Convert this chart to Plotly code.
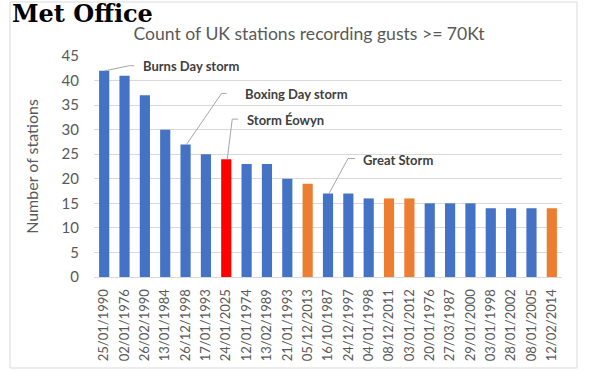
import plotly.graph_objects as go

dates = ["25/01/1990", "02/01/1976", "26/02/1990", "13/01/1984", "26/12/1998", "17/01/1993",
         "24/01/2025", "12/01/1974", "13/02/1989", "21/01/1993", "05/12/2013", "16/10/1987",
         "24/12/1997", "04/01/1998", "08/12/2011", "03/01/2012", "20/01/1976", "27/03/1987",
         "29/01/2000", "03/01/1998", "28/01/2002", "08/01/2005", "12/02/2014"]
stations = [42, 41, 37, 30, 27, 25, 24, 23, 23, 20, 19, 17, 17, 16, 16, 16, 15, 15, 15, 14, 14, 14, 14]
orange_dates = ["05/12/2013", "08/12/2011", "03/01/2012", "12/02/2014"]
red_dates = ["24/01/2025"]
named_storms = {"25/01/1990": "Burns Day storm", "26/12/1998": "Boxing Day storm",
                "24/01/2025": "Storm Éowyn", "16/10/1987": "Great Storm"}
y_ticks = [0, 5, 10, 15, 20, 25, 30, 35, 40, 45]

BLUE, ORANGE, RED = "#4472C4", "#ED7D31", "#FF0000"
colors = [RED if d in red_dates else ORANGE if d in orange_dates else BLUE for d in dates]

W, H = 590, 373
ML, MR, MT, MB = 94, 28, 56, 96
PW, PH = W - ML - MR, H - MT - MB

fig = go.Figure(go.Bar(x=dates, y=stations, marker_color=colors, marker_line_width=0))

# leader-line geometry in pixels relative to bar top: elbow, elbow end, text offset
leaders = {
    "25/01/1990": ((25, 5), (30, 5), (39, 5)),
    "26/12/1998": ((36, 51), (41, 51), (59, 50)),
    "24/01/2025": ((6, 40), (12, 40), (21, 39)),
    "16/10/1987": ((20, 35), (27, 35), (35, 34)),
}
shapes = []
annotations = []
for d, label in named_storms.items():
    v = stations[dates.index(d)]
    (ex, ey), (hx, hy), (tx, ty) = leaders[d]
    shapes.append(dict(type="path", xref="x", yref="y", xsizemode="pixel", ysizemode="pixel",
                       xanchor=d, yanchor=v, path=f"M1,0 L{ex},{ey} L{hx},{hy}",
                       line=dict(color="#A6A6A6", width=1)))
    annotations.append(dict(x=d, y=v, xref="x", yref="y", text=f"<b>{label}</b>", showarrow=False,
                            xanchor="left", yanchor="middle", xshift=tx - 2, yshift=ty,
                            font=dict(family="Lato", size=13, color="#404040")))

# chart border
shapes.append(dict(type="rect", xref="paper", yref="paper",
                   x0=(10 - ML) / PW, x1=(577 - ML) / PW,
                   y0=(MT + PH - 368) / PH, y1=(MT + PH - 2) / PH,
                   line=dict(color="#D9D9D9", width=1), layer="below"))

annotations.append(dict(xref="paper", yref="paper", x=(10 - ML) / PW, y=(MT + PH + 3) / PH,
                        xanchor="left", yanchor="top", showarrow=False, text="<b>Met Office</b>",
                        font=dict(family="DejaVu Serif", size=24, color="#000000")))

fig.update_layout(
    width=W, height=H,
    margin=dict(l=ML, r=MR, t=MT, b=MB),
    paper_bgcolor="white", plot_bgcolor="white",
    bargap=0.5,
    showlegend=False,
    title=dict(text="Count of UK stations recording gusts >= 70Kt", x=309 / W, xanchor="center",
               y=1 - 34 / H, yanchor="middle",
               font=dict(family="Lato", size=17.6, color="#595959")),
    shapes=shapes,
    annotations=annotations,
    font=dict(family="Lato", color="#595959"),
)
fig.update_xaxes(type="category", tickangle=-90, tickfont=dict(size=13, color="#595959"),
                 showline=True, linecolor="#D9D9D9", linewidth=1, ticks="", showgrid=False,
                 ticklabelstandoff=6, automargin=False)
fig.update_yaxes(range=[0, 45], tickvals=y_ticks, tickfont=dict(size=15, color="#595959"),
                 showgrid=True, gridcolor="#D9D9D9", gridwidth=1, zeroline=False, showline=False,
                 ticklabelstandoff=14, automargin=False,
                 title=dict(text="Number of stations", font=dict(size=16, color="#595959"), standoff=18))

fig.write_html("out.html", config={"displayModeBar": False},
               post_script="document.body.style.margin='0';")
